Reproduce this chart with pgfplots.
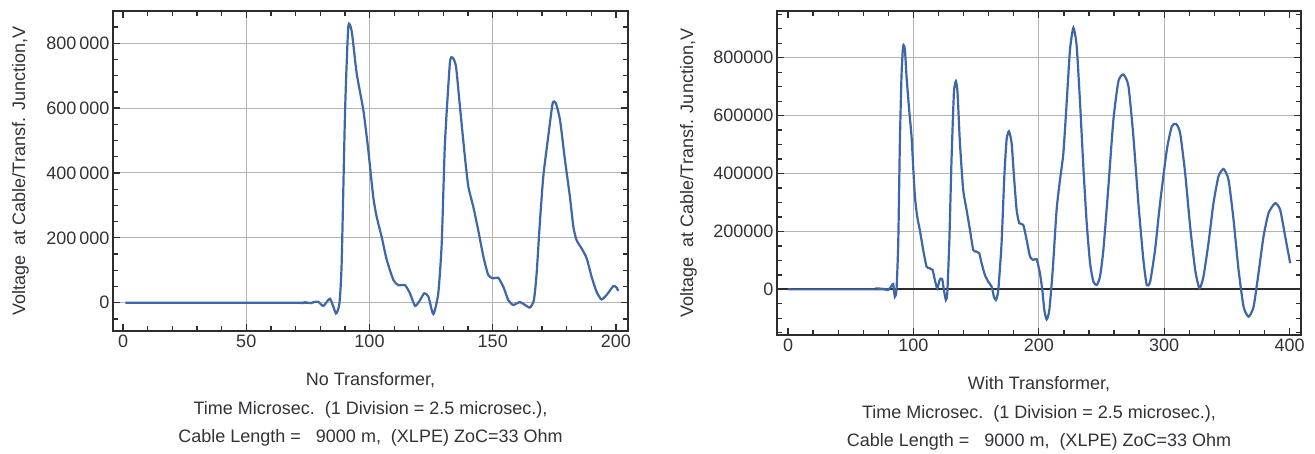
\documentclass[border=0pt]{standalone}
\usepackage{fontspec}
\setmainfont{Liberation Sans}
\usepackage{pgfplots}
\pgfplotsset{compat=1.18}
\definecolor{mblue}{RGB}{62,102,170}
\definecolor{framec}{RGB}{45,45,45}
\definecolor{gridc}{RGB}{180,180,180}
\definecolor{txt}{RGB}{50,50,55}

\pgfplotsset{mstyle/.style={
  scale only axis,
  axis line style={framec, line width=2pt},
  tick style={framec, line width=1.3pt},
  major tick length=7pt, minor tick length=5pt,
  tick align=inside,
  tick pos=both,
  grid style={gridc, line width=1pt},
  tick label style={font=\fontsize{18}{20}\selectfont, text=txt},
  label style={font=\fontsize{18}{28.5}\selectfont, text=txt},
  /pgf/number format/assume math mode=true,
  scaled ticks=false,
  xlabel style={at={(axis description cs:0.5,0)}, anchor=north, yshift=-41.5pt, align=center, inner sep=0pt},
  ylabel style={anchor=south, inner sep=0pt},
}}

\begin{document}
\begin{tikzpicture}
\useasboundingbox (0,0) rectangle (1315pt,453pt);
\begin{axis}[mstyle, at={(113pt,122pt)}, anchor=south west, width=515pt, height=320pt,
  xmin=-4.06, xmax=204.87, ymin=-87300, ymax=899600,
  xtick={0,50,100,150,200}, xticklabels={0,50,100,150,200},
  minor xtick={10,20,30,40,60,70,80,90,110,120,130,140,160,170,180,190},
  ytick={0,200000,400000,600000,800000},
  yticklabels={0,200\,000,400\,000,600\,000,800\,000},
  minor ytick={-50000,50000,100000,150000,250000,300000,350000,450000,500000,550000,650000,700000,750000,850000},
  ymajorgrids,
  extra x ticks={50,100,150}, extra x tick labels={}, extra x tick style={grid=major},
  xlabel={No Transformer,\\Time Microsec.\ \ (1 Division = 2.5 microsec.),\\Cable Length =\ \ \ 9000 m,\ \ (XLPE) ZoC=33 Ohm},
  ylabel={Voltage\ \ at Cable/Transf. Junction,V},
  ylabel style={at={(axis description cs:-0.163,0.5)}},
]
\addplot[mblue, line width=2.2pt, smooth, tension=0.35] coordinates {
(1,0)(70,0)(72,-1000)(74,1500)(76,-1500)(77.5,2000)(79.2,3000)(81.3,-10000)(84.0,12300)(86.4,-33000)(87.8,-2000)
(88.7,121000)(90.1,594000)(91.4,851000)(92.8,836000)(94.8,707000)(97.5,594000)(99.5,471000)(101.5,327000)
(102.9,265000)(104.9,204000)(107.0,132000)(109.7,70000)(111.7,54000)(114.4,54000)(116.4,29000)(118.5,-10000)
(120.5,8000)(122.2,29000)(123.9,18500)(125.9,-35000)(127.9,29000)(129.3,183000)(130.6,491000)(132.6,738000)
(133.7,756000)(135.1,728000)(136.7,604000)(138.7,450000)(140.1,358000)(142.1,296000)(144.1,224000)(146.2,142000)
(148.2,85000)(150.2,75000)(152.2,77000)(154.3,49000)(156.3,8000)(158.3,-7000)(161.0,2000)(163.1,-7000)
(165.1,-15000)(166.7,8000)(167.8,90000)(169.1,245000)(170.5,389000)(172.5,512000)(174.3,615000)(175.6,615000)
(177.3,563000)(179.3,440000)(181.3,327000)(182.7,234000)(184.0,193000)(186.0,168000)(188.1,137000)(190.1,80000)
(192.1,34000)(194.1,10000)(196.2,24000)(198.9,51000)(200.2,47000)(200.9,36000)
};
\end{axis}

\begin{axis}[mstyle, at={(777pt,118pt)}, anchor=south west, width=524pt, height=324pt,
  xmin=-8.78, xmax=409.1, ymin=-157700, ymax=961500,
  xtick={0,100,200,300,400}, xticklabels={0,100,200,300,400},
  minor xtick={20,40,60,80,120,140,160,180,220,240,260,280,320,340,360,380},
  ytick={200000,400000,600000,800000},
  yticklabels={200000,400000,600000,800000},
  minor ytick={-150000,-100000,-50000,50000,100000,150000,250000,300000,350000,450000,500000,550000,650000,700000,750000,850000,900000,950000},
  ymajorgrids,
  extra y ticks={0}, extra y tick labels={0}, extra y tick style={grid=major, major grid style={framec, line width=1.8pt}},
  extra x ticks={100,200,300}, extra x tick labels={}, extra x tick style={grid=major},
  xlabel={With Transformer,\\Time Microsec.\ \ (1 Division = 2.5 microsec.),\\Cable Length =\ \ \ 9000 m,\ \ (XLPE) ZoC=33 Ohm},
  ylabel={Voltage\ \ at Cable/Transf. Junction,V},
  ylabel style={at={(axis description cs:-0.1527,0.5)}},
]
\addplot[mblue, line width=2.2pt, smooth, tension=0.35] coordinates {
(0,0)(73.2,0)(76,1500)(78,-1500)(79.9,-2300)(82.5,11500)(83.9,18500)(85.2,-25400)(86.5,-2300)(87.9,159000)
(89.2,505600)(90.5,736500)(91.8,840400)(93.2,828900)(94.5,736500)(96.6,621000)(98.5,528700)(99.8,424800)
(101.2,320900)(103.0,251700)(105.1,205500)(107.8,136300)(110.5,78500)(113.1,72700)(115.3,67000)(117.1,32300)
(119.0,3500)(121.1,34600)(123.0,34600)(124.3,-2300)(125.9,-36900)(127.0,-13900)(128.6,159300)(130.4,447900)
(132.3,678800)(133.9,719200)(135.2,678800)(137.1,505600)(139.7,344000)(142.4,274700)(145.1,205500)(147.7,136300)
(150.4,130400)(152.5,124700)(154.4,90000)(157.0,49600)(159.7,26600)(162.4,9200)(164.2,-25400)(165.8,-36900)
(167.7,-2300)(170.3,159300)(172.5,390200)(174.3,517200)(176.2,546000)(178.3,505600)(180.2,390200)(182.3,274700)
(184.4,228600)(187.6,222800)(190.3,170900)(193.0,113100)(195.6,101600)(198.3,103900)(200.9,55400)(202.8,-2300)
(204.4,-71600)(206.3,-103900)(208.4,-71600)(211.1,67000)(214.2,274700)(216.9,378600)(219.6,471000)(222.2,644200)
(224.9,828900)(227.6,903900)(230.2,840400)(232.9,644200)(235.5,424800)(238.2,228600)(240.9,90000)(243.5,26600)
(246.2,15000)(248.8,43900)(251.5,136300)(255.5,355600)(259.5,586400)(263.5,719200)(267.5,742300)(271.5,701900)
(275.4,528700)(279.4,297800)(283.4,101600)(286.1,15000)(288.8,26600)(292.7,136300)(296.7,297800)(302.1,482500)
(306.1,563300)(309.5,571400)(312.7,540300)(316.7,401700)(320.7,217000)(324.7,67000)(328.1,3500)(331.3,43900)
(335.3,159300)(339.3,297800)(343.3,390200)(347.3,415600)(351.3,378600)(355.3,240100)(359.3,67000)(363.3,-60000)
(367.3,-94700)(371.3,-60000)(375.2,55400)(379.2,182400)(383.2,263200)(388.5,297800)(392.5,274700)(396.5,182400)
(400.5,90000)
};
\end{axis}
\end{tikzpicture}
\end{document}
